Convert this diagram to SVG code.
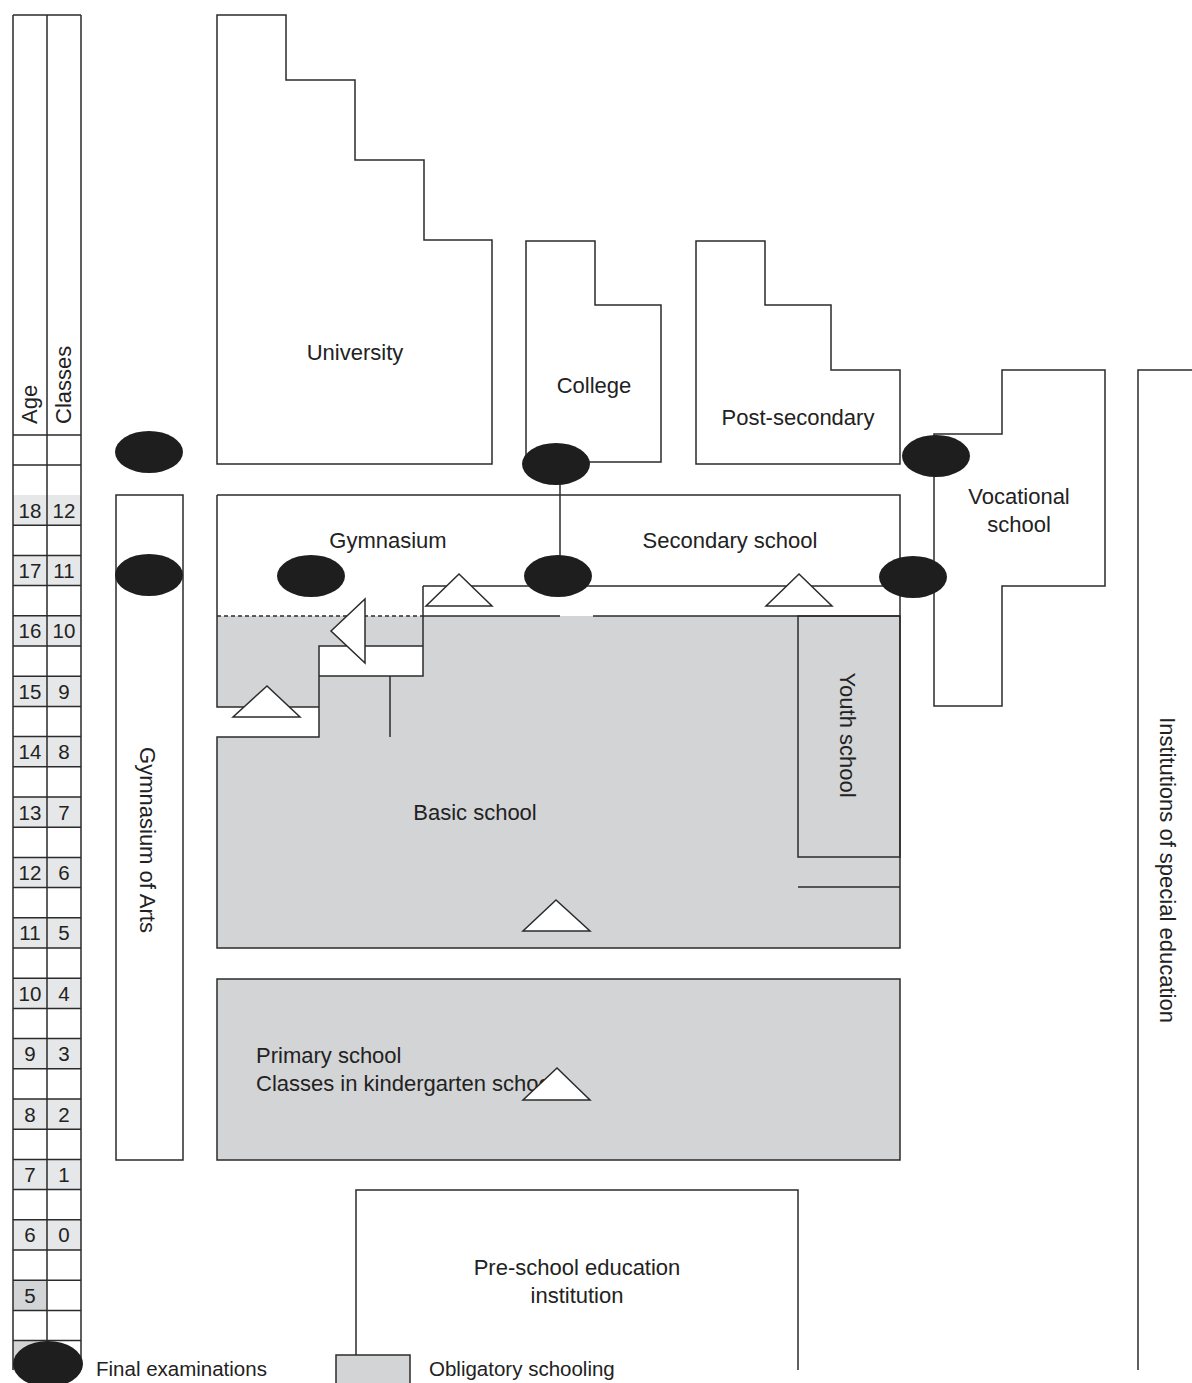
<svg xmlns="http://www.w3.org/2000/svg" width="1192" height="1383" viewBox="0 0 1192 1383">
<style>
.ln{stroke:#2b2b2b;stroke-width:1.5;fill:none}
.bx{stroke:#2b2b2b;stroke-width:1.5;fill:#fff}
.gr{fill:#d3d4d6}
.lt{fill:#e6e7e8}
.ex{fill:#1e1e1e}
.tri{fill:#fff;stroke:#2b2b2b;stroke-width:1.5}
text{font-family:"Liberation Sans",Arial,sans-serif;font-size:22px;fill:#222}
.mid{text-anchor:middle}
.num{font-size:20.5px;text-anchor:middle}
.leg{font-size:20.5px}
</style>
<rect width="1192" height="1383" fill="#fff"/>

<g id="scale">
<g id="shade">
<rect class="lt" x="13" y="495" width="68" height="30"/>
<rect class="lt" x="13" y="555.4" width="68" height="30.2"/>
<rect class="lt" x="13" y="615.8" width="68" height="30.2"/>
<rect class="lt" x="13" y="676.2" width="68" height="30.2"/>
<rect class="lt" x="13" y="736.6" width="68" height="30.2"/>
<rect class="lt" x="13" y="797" width="68" height="30.2"/>
<rect class="lt" x="13" y="857.4" width="68" height="30.2"/>
<rect class="lt" x="13" y="917.8" width="68" height="30.2"/>
<rect class="lt" x="13" y="978.2" width="68" height="30.2"/>
<rect class="lt" x="13" y="1038.6" width="68" height="30.2"/>
<rect class="lt" x="13" y="1099" width="68" height="30.2"/>
<rect class="lt" x="13" y="1159.4" width="68" height="30.2"/>
<rect class="lt" x="13" y="1219.8" width="68" height="30.2"/>
<rect class="gr" x="13" y="1280.2" width="34" height="30.2"/>
<rect class="gr" x="13" y="1340.6" width="34" height="30"/>
</g>
<path class="ln" d="M13,15 H81 M13,15 V1370 M47,15 V1370 M81,15 V1370 M13,435 H81 M13,465 H81
M13,525.2 H81 M13,555.4 H81 M13,585.6 H81 M13,615.8 H81 M13,646 H81 M13,676.2 H81 M13,706.4 H81 M13,736.6 H81 M13,766.8 H81 M13,797 H81 M13,827.2 H81 M13,857.4 H81 M13,887.6 H81 M13,917.8 H81 M13,948 H81 M13,978.2 H81 M13,1008.4 H81 M13,1038.6 H81 M13,1068.8 H81 M13,1099 H81 M13,1129.2 H81 M13,1159.4 H81 M13,1189.6 H81 M13,1219.8 H81 M13,1250 H81 M13,1280.2 H81 M13,1310.4 H81 M13,1340.6 H81"/>
<text transform="translate(37,424) rotate(-90)">Age</text>
<text transform="translate(71,424) rotate(-90)">Classes</text>
<g>
<text class="num" x="30" y="517.5">18</text><text class="num" x="64" y="517.5">12</text>
<text class="num" x="30" y="577.9">17</text><text class="num" x="64" y="577.9">11</text>
<text class="num" x="30" y="638.3">16</text><text class="num" x="64" y="638.3">10</text>
<text class="num" x="30" y="698.7">15</text><text class="num" x="64" y="698.7">9</text>
<text class="num" x="30" y="759.1">14</text><text class="num" x="64" y="759.1">8</text>
<text class="num" x="30" y="819.5">13</text><text class="num" x="64" y="819.5">7</text>
<text class="num" x="30" y="879.9">12</text><text class="num" x="64" y="879.9">6</text>
<text class="num" x="30" y="940.3">11</text><text class="num" x="64" y="940.3">5</text>
<text class="num" x="30" y="1000.7">10</text><text class="num" x="64" y="1000.7">4</text>
<text class="num" x="30" y="1061.1">9</text><text class="num" x="64" y="1061.1">3</text>
<text class="num" x="30" y="1121.5">8</text><text class="num" x="64" y="1121.5">2</text>
<text class="num" x="30" y="1181.9">7</text><text class="num" x="64" y="1181.9">1</text>
<text class="num" x="30" y="1242.3">6</text><text class="num" x="64" y="1242.3">0</text>
<text class="num" x="30" y="1302.7">5</text>
</g>
</g>

<g id="university">
<path class="bx" d="M217,15 H286 V80 H355 V160 H424 V240 H492 V464 H217 Z"/>
<text class="mid" x="355" y="360">University</text>
</g>
<g id="college">
<path class="bx" d="M526,241 H595 V305 H661 V462 H526 Z"/>
<text class="mid" x="594" y="393">College</text>
</g>
<g id="post-secondary">
<path class="bx" d="M696,241 H765 V305 H831 V370 H900 V464 H696 Z"/>
<text class="mid" x="798" y="425">Post-secondary</text>
</g>
<g id="vocational">
<path class="bx" d="M1002,370 H1105 V586 H1002 V706 H934 V434 H1002 Z"/>
<text class="mid" x="1019" y="504">Vocational</text>
<text class="mid" x="1019" y="532">school</text>
</g>
<g id="special">
<path class="ln" d="M1138,1370 V370 H1192"/>
<text class="mid" transform="translate(1168,870) rotate(90)" y="8">Institutions of special education</text>
</g>
<g id="gymnasium-of-arts">
<rect class="bx" x="116" y="495" width="67" height="665"/>
<text class="mid" transform="translate(148,840) rotate(90)" y="8">Gymnasium of Arts</text>
</g>

<g id="secondary-basic">
<rect x="217" y="495" width="683" height="121" fill="#fff"/>
<rect class="gr" x="217" y="616" width="683" height="332"/>
<rect x="217" y="707" width="102" height="30" fill="#fff"/>
<rect x="319" y="646" width="104" height="30" fill="#fff"/>
<rect x="423" y="586" width="477" height="30" fill="#fff"/>
<path class="ln" d="M217,495 H900 V948 H217 V737 H319 V646 H423 V676 H319 M217,495 V707 H319
M423,586 H900 M423,586 V676 M423,616 H560 M593,616 H900 M390,676 V737"/>
<path class="ln" d="M217,616 H423" stroke-dasharray="4,3"/>
<text class="mid" x="388" y="548">Gymnasium</text>
<text class="mid" x="730" y="548">Secondary school</text>
<text class="mid" x="475" y="820">Basic school</text>
</g>
<g id="youth">
<rect class="ln" x="798" y="616" width="102" height="241"/>
<path class="ln" d="M798,887 H900"/>
<text class="mid" transform="translate(848,735) rotate(90)" y="8">Youth school</text>
</g>
<g id="primary">
<rect class="gr" x="217" y="979" width="683" height="181" stroke="#2b2b2b" stroke-width="1.5"/>
<text x="256" y="1063">Primary school</text>
<text x="256" y="1091">Classes in kindergarten schools</text>
</g>
<g id="preschool">
<path class="ln" d="M356,1355 V1190 H798 V1370"/>
<text class="mid" x="577" y="1275">Pre-school education</text>
<text class="mid" x="577" y="1303">institution</text>
</g>

<g id="connectors">
<path class="ln" d="M560,465 V575"/>
<polygon class="tri" points="267,686 233,717 300,717"/>
<polygon class="tri" points="331,631 365,599 365,663"/>
<polygon class="tri" points="459,574 426,606 492,606"/>
<polygon class="tri" points="799,574 766,606 832,606"/>
<polygon class="tri" points="556,900 523,931 590,931"/>
<polygon class="tri" points="557,1068 523,1100 590,1100"/>
</g>

<g id="exams">
<ellipse class="ex" cx="149" cy="452" rx="34" ry="21"/>
<ellipse class="ex" cx="149" cy="575" rx="34" ry="21"/>
<ellipse class="ex" cx="311" cy="576" rx="34" ry="21"/>
<ellipse class="ex" cx="558" cy="576" rx="34" ry="21"/>
<ellipse class="ex" cx="556" cy="464" rx="34" ry="21"/>
<ellipse class="ex" cx="936" cy="456" rx="34" ry="21"/>
<ellipse class="ex" cx="913" cy="577" rx="34" ry="21"/>
</g>

<g id="legend">
<ellipse class="ex" cx="48" cy="1364" rx="35" ry="23"/>
<text class="leg" x="96" y="1376">Final examinations</text>
<rect class="gr" x="336" y="1355" width="74" height="30" stroke="#2b2b2b" stroke-width="1.5"/>
<text class="leg" x="429" y="1376">Obligatory schooling</text>
</g>
</svg>
